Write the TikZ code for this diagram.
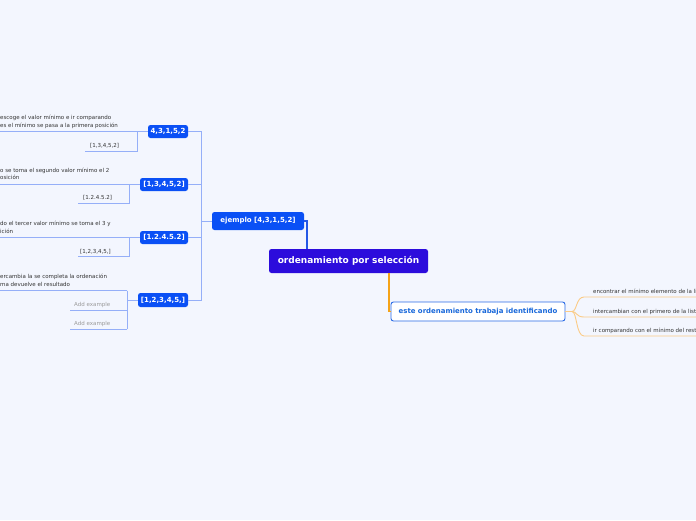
\documentclass[tikz,border=0pt]{standalone}
\usepackage{fontspec}
\setmainfont{DejaVu Sans}
\definecolor{bg}{HTML}{F3F6FE}
\definecolor{rootc}{HTML}{2C0CDC}
\definecolor{bluenode}{HTML}{0A50F5}
\definecolor{bline}{HTML}{95AFF8}
\definecolor{bdark}{HTML}{2458E6}
\definecolor{rborder}{HTML}{2A6BE6}
\definecolor{rtext}{HTML}{1767DA}
\definecolor{orangem}{HTML}{F5A318}
\definecolor{orangel}{HTML}{FBCB86}
\definecolor{leaftext}{HTML}{333333}
\definecolor{addtext}{HTML}{9A9A9A}
\tikzset{
  rootbox/.style={fill=rootc, rounded corners=2.5pt, text=white, font=\fontsize{9}{11}\selectfont\bfseries, minimum width=159pt, minimum height=24pt, inner sep=0pt},
  bluebox/.style={fill=bluenode, rounded corners=2.5pt, text=white, font=\fontsize{7}{8}\selectfont\bfseries, inner sep=0pt},
  whitebox/.style={fill=white, draw=rborder, line width=0.9pt, rounded corners=2.5pt, text=rtext, font=\fontsize{6.95}{8}\selectfont\bfseries, minimum width=174pt, minimum height=19pt, inner sep=0pt},
  leaf/.style={font=\fontsize{5.5}{7.3}\selectfont, text=leaftext, align=left, inner sep=0pt, anchor=base west},
  addleaf/.style={leaf, text=addtext},
  bconn/.style={draw=bline, line width=0.9pt},
  mainblue/.style={draw=bdark, line width=1.1pt},
  oconn/.style={draw=orangem, line width=1.3pt},
  obranch/.style={draw=orangel, line width=0.9pt},
}
\begin{document}
\begin{tikzpicture}[x=1pt,y=-1pt]
\clip (0,0) rectangle (696,520);
\fill[bg] (0,0) rectangle (696,520);

% main nodes
\node[rootbox] (root) at (348.5,261) {ordenamiento por selección};
\node[bluebox, minimum width=92pt, minimum height=18pt] (ej) at (258,221) {ejemplo [4,3,1,5,2]};
\node[whitebox] (R) at (478,311.5) {este ordenamiento trabaja identificando};

% children of ejemplo
\node[bluebox, minimum width=40pt, minimum height=13pt] (A) at (168,131.5) {4,3,1,5,2};
\node[bluebox, minimum width=48pt, minimum height=13pt] (B) at (164,184.5) {[1,3,4,5,2]};
\node[bluebox, minimum width=48pt, minimum height=13pt] (C) at (164,237.5) {[1.2.4.5.2]};
\node[bluebox, minimum width=50pt, minimum height=14pt] (D) at (163,300) {[1,2,3,4,5,]};

% root -> ejemplo
\coordinate (ejr) at (307,221);
\draw[mainblue] (ej.east) -- (ejr) -- (ejr |- root.north);

% spine
\coordinate (sp) at (201,221);
\draw[bconn] (ej.west) -- (sp);
\draw[bconn] (sp) |- (A.east);
\draw[bconn] (sp) |- (B.east);
\draw[bconn] (sp) |- (C.east);
\draw[bconn] (sp) |- (D.east);

% group A
\coordinate (jA) at (137,131.5);
\coordinate (jA2) at (137,151);
\coordinate (uA1) at (-3,131.5);
\coordinate (uA2) at (85,151);
\node[leaf] (tA1) at (0,127) {escoge el valor mínimo e ir comparando\\es el mínimo se pasa a la primera posición};
\node[leaf] (tA2) at (90,147.5) {[1,3,4,5,2]};
\draw[bconn] (A.west) -- (jA) -- (uA1);
\draw[bconn] (jA) -- (jA2) -- (uA2);

% group B
\coordinate (jB) at (129,184.5);
\coordinate (jB2) at (129,203);
\coordinate (uB1) at (-3,184.5);
\coordinate (uB2) at (78,203);
\node[leaf] (tB1) at (0,179.5) {o se toma el segundo valor mínimo el 2\\osición};
\node[leaf] (tB2) at (83,199.5) {[1.2.4.5.2]};
\draw[bconn] (B.west) -- (jB) -- (uB1);
\draw[bconn] (jB) -- (jB2) -- (uB2);

% group C
\coordinate (jC) at (129,237.5);
\coordinate (jC2) at (129,256.5);
\coordinate (uC1) at (-3,237.5);
\coordinate (uC2) at (78,256.5);
\node[leaf] (tC1) at (0,233) {do el tercer valor mínimo se toma el 3 y\\ición};
\node[leaf] (tC2) at (80,253) {[1,2,3,4,5,]};
\draw[bconn] (C.west) -- (jC) -- (uC1);
\draw[bconn] (jC) -- (jC2) -- (uC2);

% group D
\coordinate (jD) at (127,300);
\coordinate (jD1) at (127,290.5);
\coordinate (jD2) at (127,310);
\coordinate (jD3) at (127,329);
\coordinate (uD1) at (-3,290.5);
\coordinate (uD2) at (70,310);
\coordinate (uD3) at (70,329);
\node[leaf] (tD1) at (0,286) {ercambia la se completa la ordenación\\ma devuelve el resultado};
\node[addleaf] (tD2) at (74,306.5) {Add example};
\node[addleaf] (tD3) at (74,325.5) {Add example};
\draw[bconn] (D.west) -- (jD);
\draw[bconn] (jD1) -- (jD3);
\draw[bconn] (jD1) -- (uD1);
\draw[bconn] (jD2) -- (uD2);
\draw[bconn] (jD3) -- (uD3);

% root -> right node
\coordinate (ro) at (389,273);
\coordinate (ro2) at (389,311.5);
\draw[oconn] (ro) -- (ro2) -- (R.west);

% right leaves
\coordinate (jR) at (572,311.5);
\coordinate (uR1) at (700,297);
\coordinate (uR2) at (700,317);
\coordinate (uR3) at (700,336);
\node[leaf] (r1) at (593,293.5) {encontrar el mínimo elemento de la li};
\node[leaf] (r2) at (593,313.5) {intercambian con el primero de la list};
\node[leaf] (r3) at (593,332.5) {ir comparando con el mínimo del rest};
\draw[obranch] (R.east) -- (jR);
\draw[obranch] (jR) .. controls (577,311.5) and (576,297) .. (584,297) -- (uR1);
\draw[obranch] (jR) .. controls (577,311.5) and (576,317) .. (584,317) -- (uR2);
\draw[obranch] (jR) .. controls (577,311.5) and (576,336) .. (584,336) -- (uR3);
\end{tikzpicture}
\end{document}
